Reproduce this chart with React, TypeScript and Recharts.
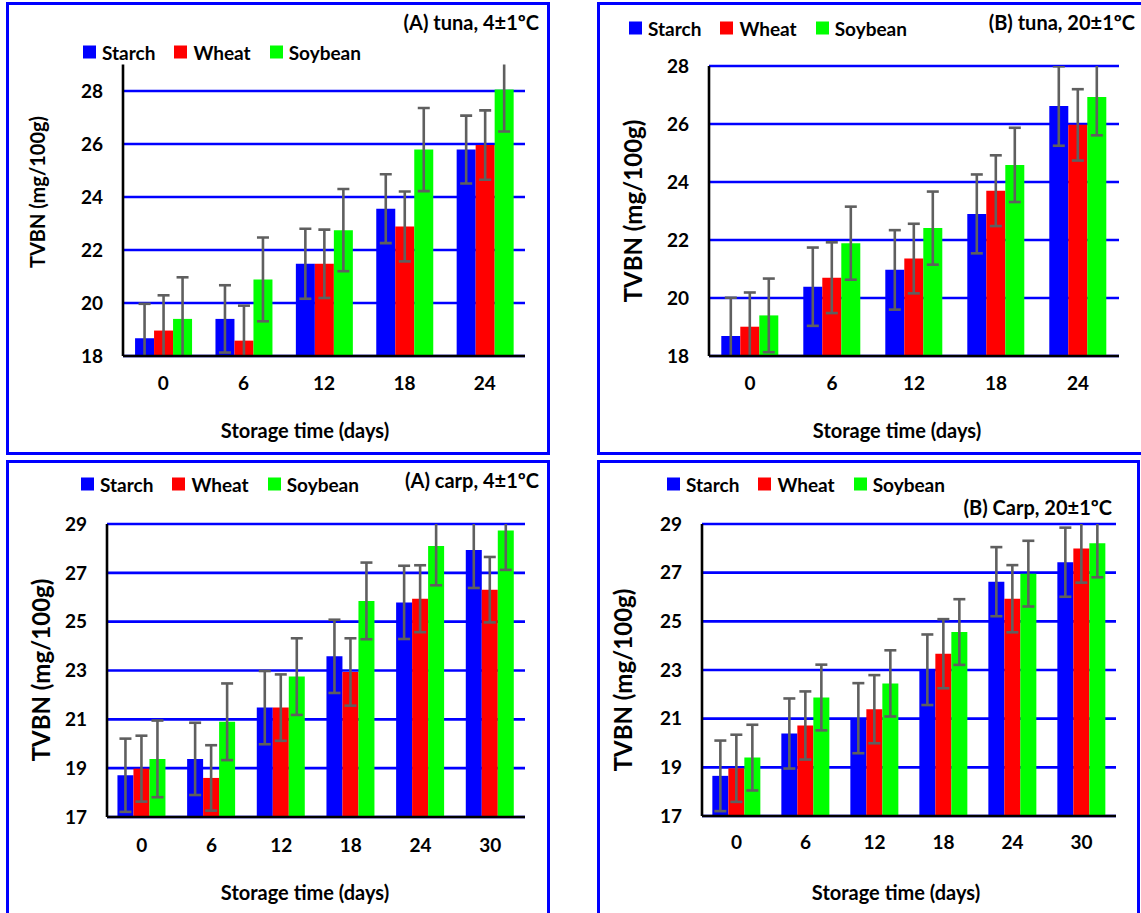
import { Bar, BarChart, CartesianGrid, ErrorBar, XAxis, YAxis } from 'recharts';

const tunaDays = ['0', '6', '12', '18', '24'];
const carpDays = ['0', '6', '12', '18', '24', '30'];

// (A) tuna, 4°C
const tunaAStarch = [18.67, 19.4, 21.48, 23.56, 25.79];
const tunaAWheat = [18.96, 18.58, 21.48, 22.89, 25.96];
const tunaASoy = [19.4, 20.89, 22.75, 25.79, 28.06];
const tunaAStarchErr = [1.3, 1.27, 1.32, 1.3, 1.28];
const tunaAWheatErr = [1.33, 1.32, 1.29, 1.32, 1.31];
const tunaASoyErr = [1.57, 1.58, 1.55, 1.57, 1.59];

// (B) tuna, 20°C
const tunaBStarch = [18.69, 20.39, 20.97, 22.9, 26.62];
const tunaBWheat = [19.01, 20.7, 21.36, 23.7, 25.97];
const tunaBSoy = [19.4, 21.89, 22.41, 24.59, 26.93];
const tunaBStarchErr = [1.32, 1.35, 1.37, 1.36, 1.37];
const tunaBWheatErr = [1.18, 1.22, 1.2, 1.22, 1.23];
const tunaBSoyErr = [1.27, 1.26, 1.26, 1.28, 1.32];

// (A) carp, 4°C
const carpAStarch = [18.71, 19.38, 21.48, 23.58, 25.79, 27.94];
const carpAWheat = [18.98, 18.6, 21.48, 22.94, 25.94, 26.31];
const carpASoy = [19.38, 20.9, 22.75, 25.85, 28.1, 28.73];
const carpAStarchErr = [1.5, 1.48, 1.5, 1.5, 1.5, 1.56];
const carpAWheatErr = [1.35, 1.34, 1.36, 1.38, 1.37, 1.34];
const carpASoyErr = [1.57, 1.57, 1.57, 1.57, 1.61, 1.61];

// (B) carp, 20°C
const carpBStarch = [18.65, 20.39, 21.02, 23.01, 26.63, 27.43];
const carpBWheat = [18.96, 20.72, 21.39, 23.67, 25.93, 27.99];
const carpBSoy = [19.4, 21.87, 22.45, 24.56, 26.96, 28.21];
const carpBStarchErr = [1.45, 1.44, 1.44, 1.45, 1.42, 1.42];
const carpBWheatErr = [1.38, 1.4, 1.4, 1.42, 1.38, 1.4];
const carpBSoyErr = [1.35, 1.35, 1.36, 1.35, 1.35, 1.4];

const tunaTicks = [18, 20, 22, 24, 26, 28];
const carpTicks = [17, 19, 21, 23, 25, 27, 29];

const seriesNames = ['Starch', 'Wheat', 'Soybean'];
const seriesColors = ['#0000FF', '#FF0000', '#00FF00'];

const FONT = 'Lato, "Open Sans", sans-serif';
const Y_W = 60;
const X_H = 40;

const buildRows = (
  days: string[],
  s: number[], w: number[], y: number[],
  se: number[], we: number[], ye: number[],
) =>
  days.map((day, i) => ({
    day,
    starch: s[i],
    wheat: w[i],
    soybean: y[i],
    starchErr: se[i],
    wheatErr: we[i],
    soybeanErr: ye[i],
  }));

type Box = { x: number; y: number; w: number; h: number };
type Plot = { left: number; right: number; top: number; bottom: number };

type PanelProps = {
  id: string;
  box: Box;
  plot: Plot;
  rows: any[];
  domain: [number, number];
  ticks: number[];
  title: string;
  titleRight: number;
  titleY: number;
  legendX: number;
  legendY: number;
  yTitle: { x: number; y: number; size: number };
  xTitle: { x: number; y: number };
  xTickMargin: number;
};

const Legend3 = ({ x, y }: { x: number; y: number }) => (
  <div
    style={{
      position: 'absolute', left: x, top: y, transform: 'translateY(-50%)',
      display: 'flex', alignItems: 'center', fontFamily: FONT, fontWeight: 700,
      fontSize: 19, lineHeight: 1, whiteSpace: 'nowrap',
    }}
  >
    {seriesNames.map((n, i) => (
      <span key={n} style={{ display: 'flex', alignItems: 'center', marginRight: 19 }}>
        <span style={{ width: 13, height: 13, background: seriesColors[i], marginRight: 6, display: 'inline-block' }} />
        {n}
      </span>
    ))}
  </div>
);

const Panel = (p: PanelProps) => {
  const margin = {
    top: p.plot.top - p.box.y,
    left: p.plot.left - p.box.x - Y_W,
    right: p.box.x + p.box.w - p.plot.right,
    bottom: p.box.y + p.box.h - p.plot.bottom - X_H,
  };
  const tickStyle = { fill: '#000', fontSize: 19, fontWeight: 700, fontFamily: FONT };
  const clipId = 'errclip-' + p.id;
  return (
    <>
      <div
        style={{
          position: 'absolute', left: p.box.x, top: p.box.y, width: p.box.w, height: p.box.h,
          border: '3px solid #0000FF', boxSizing: 'border-box',
        }}
      />
      {/* clip region for the error bars: the plot area in the chart's own coordinates */}
      <svg width={0} height={0} style={{ position: 'absolute' }}>
        <defs>
          <clipPath id={clipId}>
            <rect
              x={p.plot.left - p.box.x}
              y={p.plot.top - p.box.y}
              width={p.plot.right - p.plot.left}
              height={p.plot.bottom - p.plot.top}
            />
          </clipPath>
        </defs>
      </svg>
      <style>{`#${p.id} .recharts-errorBar { clip-path: url(#${clipId}); }`}</style>
      <div id={p.id} style={{ position: 'absolute', left: p.box.x, top: p.box.y }}>
        <BarChart
          width={p.box.w}
          height={p.box.h}
          data={p.rows}
          margin={margin}
          barCategoryGap="15%"
          barGap={0}
        >
          <CartesianGrid vertical={false} horizontalValues={p.ticks} stroke="#0000FF" strokeWidth={2.6} />
          <XAxis
            dataKey="day"
            height={X_H}
            tickLine={false}
            tickSize={0}
            tickMargin={p.xTickMargin}
            axisLine={{ stroke: '#000', strokeWidth: 2.6 }}
            tick={tickStyle}
          />
          <YAxis
            type="number"
            width={Y_W}
            domain={p.domain}
            ticks={p.ticks}
            allowDataOverflow
            interval={0}
            tickLine={false}
            tickSize={0}
            tickMargin={20}
            axisLine={{ stroke: '#000', strokeWidth: 2.6 }}
            tick={tickStyle}
          />
          {['starch', 'wheat', 'soybean'].map((k, i) => (
            <Bar key={k} dataKey={k} name={seriesNames[i]} fill={seriesColors[i]} isAnimationActive={false}>
              <ErrorBar
                dataKey={k + 'Err'}
                direction="y"
                width={6}
                stroke="#5f5f5f"
                strokeWidth={2.6}
                isAnimationActive={false}
              />
            </Bar>
          ))}
        </BarChart>
      </div>
      <div
        style={{
          position: 'absolute', right: 1141 - p.titleRight, top: p.titleY, transform: 'translateY(-50%)',
          fontFamily: FONT, fontWeight: 700, fontSize: 20, lineHeight: 1, whiteSpace: 'nowrap',
        }}
      >
        {p.title}
      </div>
      <Legend3 x={p.legendX} y={p.legendY} />
      <div
        style={{
          position: 'absolute', left: p.yTitle.x, top: p.yTitle.y,
          transform: 'translate(-50%, -50%) rotate(-90deg)',
          fontFamily: FONT, fontWeight: 700, fontSize: p.yTitle.size, lineHeight: 1, whiteSpace: 'nowrap',
        }}
      >
        TVBN (mg/100g)
      </div>
      <div
        style={{
          position: 'absolute', left: p.xTitle.x, top: p.xTitle.y, transform: 'translate(-50%, -50%)',
          fontFamily: FONT, fontWeight: 700, fontSize: 20, lineHeight: 1, whiteSpace: 'nowrap',
        }}
      >
        Storage time (days)
      </div>
    </>
  );
};

export default function App() {
  const tunaA = buildRows(tunaDays, tunaAStarch, tunaAWheat, tunaASoy, tunaAStarchErr, tunaAWheatErr, tunaASoyErr);
  const tunaB = buildRows(tunaDays, tunaBStarch, tunaBWheat, tunaBSoy, tunaBStarchErr, tunaBWheatErr, tunaBSoyErr);
  const carpA = buildRows(carpDays, carpAStarch, carpAWheat, carpASoy, carpAStarchErr, carpAWheatErr, carpASoyErr);
  const carpB = buildRows(carpDays, carpBStarch, carpBWheat, carpBSoy, carpBStarchErr, carpBWheatErr, carpBSoyErr);

  return (
    <div
      style={{
        position: 'absolute', left: 0, top: 0, width: 1141, height: 913,
        overflow: 'hidden', background: '#fff',
      }}
    >
      <Panel
        id="tunaA"
        box={{ x: 6, y: 2, w: 544, h: 453 }}
        plot={{ left: 123, right: 525, top: 64.5, bottom: 356 }}
        rows={tunaA}
        domain={[18, 29]}
        ticks={tunaTicks}
        title="(A) tuna, 4±1ºC"
        titleRight={539}
        titleY={22}
        legendX={83}
        legendY={52}
        yTitle={{ x: 37, y: 192, size: 20 }}
        xTitle={{ x: 305, y: 430 }}
        xTickMargin={21}
      />
      <Panel
        id="tunaB"
        box={{ x: 597, y: 2, w: 548, h: 453 }}
        plot={{ left: 709, right: 1119, top: 66, bottom: 356 }}
        rows={tunaB}
        domain={[18, 28]}
        ticks={tunaTicks}
        title="(B) tuna, 20±1ºC"
        titleRight={1135}
        titleY={22}
        legendX={629}
        legendY={28}
        yTitle={{ x: 633, y: 211, size: 24 }}
        xTitle={{ x: 897, y: 430 }}
        xTickMargin={21}
      />
      <Panel
        id="carpA"
        box={{ x: 6, y: 460, w: 544, h: 460 }}
        plot={{ left: 107, right: 525, top: 524, bottom: 817 }}
        rows={carpA}
        domain={[17, 29]}
        ticks={carpTicks}
        title="(A) carp, 4±1ºC"
        titleRight={539}
        titleY={480}
        legendX={81}
        legendY={484}
        yTitle={{ x: 41, y: 670, size: 24 }}
        xTitle={{ x: 305, y: 892 }}
        xTickMargin={22}
      />
      <Panel
        id="carpB"
        box={{ x: 597, y: 460, w: 543, h: 460 }}
        plot={{ left: 702, right: 1116, top: 524, bottom: 816 }}
        rows={carpB}
        domain={[17, 29]}
        ticks={carpTicks}
        title="(B) Carp, 20±1ºC"
        titleRight={1112}
        titleY={507}
        legendX={667}
        legendY={484}
        yTitle={{ x: 623, y: 680, size: 24 }}
        xTitle={{ x: 896, y: 892 }}
        xTickMargin={20}
      />
    </div>
  );
}
